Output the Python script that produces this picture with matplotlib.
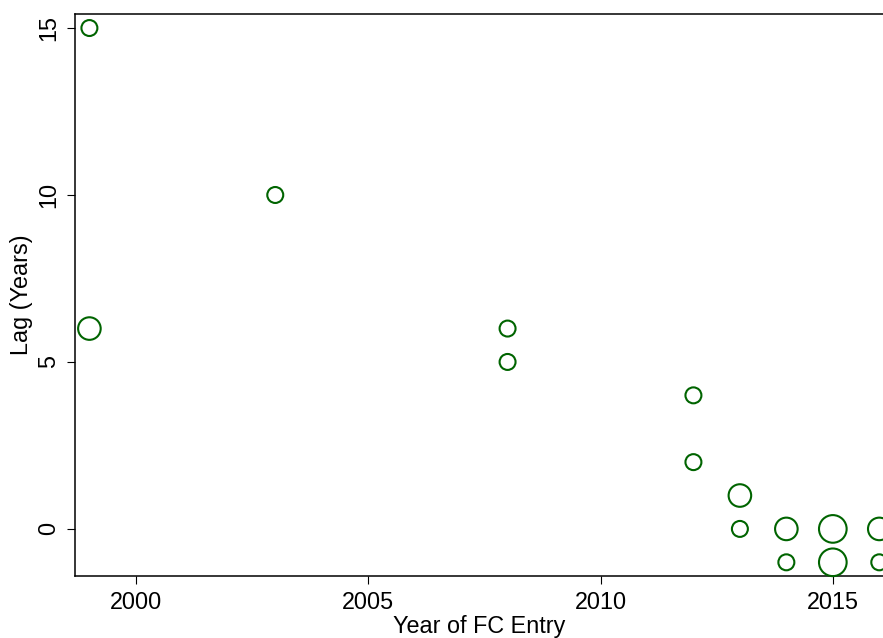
import matplotlib
matplotlib.use("Agg")
import matplotlib.pyplot as plt

plt.rcParams['font.family'] = ['Liberation Sans', 'DejaVu Sans']

year = [1999, 1999, 2003, 2008, 2008, 2012, 2012, 2013, 2013, 2014, 2014, 2015, 2015, 2016, 2016]
lag = [15, 6, 10, 6, 5, 4, 2, 1, 0, 0, -1, 0, -1, 0, -1]
count = [1, 2, 1, 1, 1, 1, 1, 2, 1, 2, 1, 3, 3, 2, 1]

xticks = [2000, 2005, 2010, 2015]
yticks = [0, 5, 10, 15]

fig = plt.figure(figsize=(8.83, 6.38), dpi=100)
ax = fig.add_axes([75/883, 62/638, 1 - 75/883, (576-14)/638])

ax.scatter(year, lag, s=[132*c for c in count], facecolors='none',
           edgecolors='#006400', linewidths=1.5, clip_on=False, zorder=3)

ax.set_xlim(1998.69, 2016.08)
ax.set_ylim(-1.41, 15.42)
ax.set_xticks(xticks)
ax.set_yticks(yticks)
ax.set_yticklabels([str(t) for t in yticks], rotation=90, va='center')
ax.tick_params(axis='both', direction='out', length=6, width=0.8, labelsize=16.8, pad=4.5)
ax.spines['right'].set_visible(False)
for s in ['left', 'bottom', 'top']:
    ax.spines[s].set_linewidth(1.1)
ax.set_xlabel('Year of FC Entry', fontsize=16.8, labelpad=1)
ax.set_ylabel('Lag (Years)', fontsize=16.8, labelpad=3)

fig.savefig('out.png', dpi=100)
